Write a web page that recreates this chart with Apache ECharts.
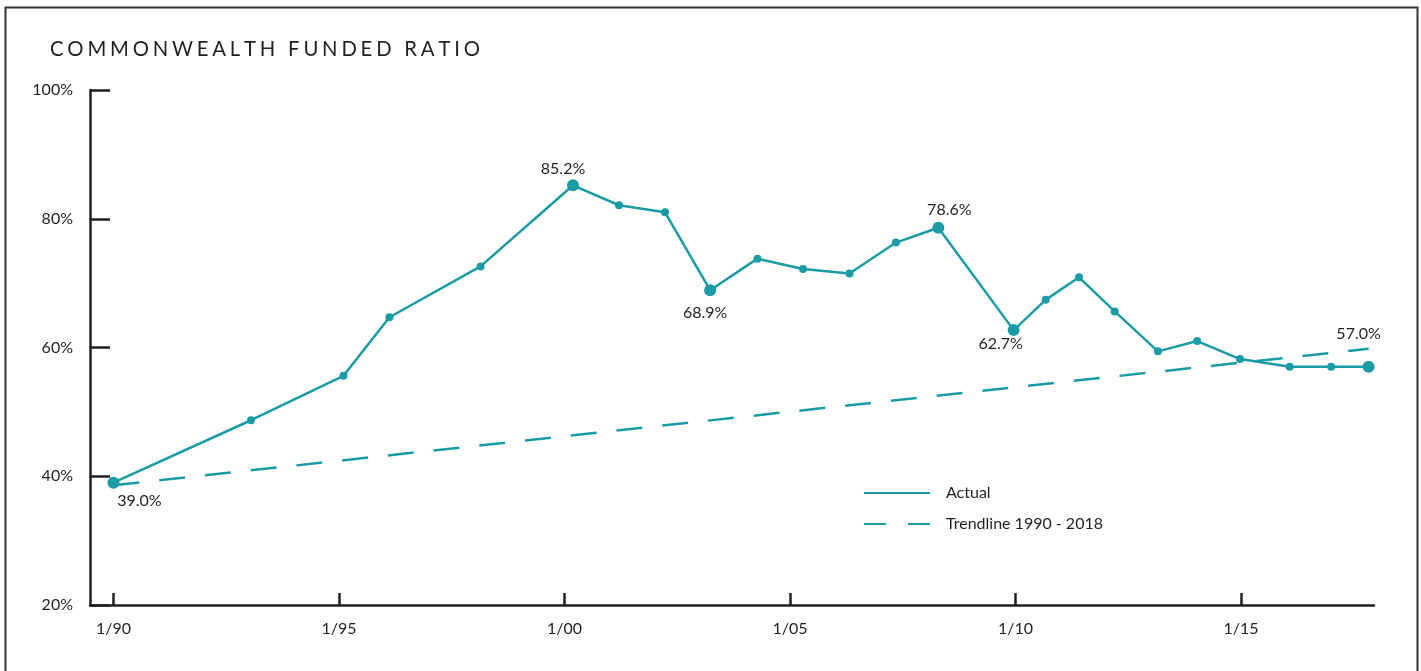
<!DOCTYPE html>
<html>
<head>
<meta charset="utf-8">
<script src="https://cdn.jsdelivr.net/npm/echarts@6/dist/echarts.min.js"></script>
<style>
  html, body { margin: 0; padding: 0; background: #ffffff; }
  #chart { width: 1421px; height: 671px; }
</style>
</head>
<body>
<div id="chart"></div>
<script>
// Funded ratio observations (fractional calendar year, percent funded)
const titleText = 'COMMONWEALTH FUNDED RATIO';
const years = [1990.0, 1993.05, 1995.1, 1996.12, 1998.14, 2000.19, 2001.21, 2002.23,
               2003.23, 2004.28, 2005.29, 2006.32, 2007.35, 2008.29, 2009.96, 2010.67,
               2011.41, 2012.2, 2013.16, 2014.03, 2014.98, 2016.08, 2017.0, 2017.83];
const actual = [39.0, 48.7, 55.6, 64.7, 72.6, 85.2, 82.1, 81.0,
                68.9, 73.8, 72.2, 71.5, 76.3, 78.6, 62.7, 67.4,
                70.9, 65.6, 59.4, 61.0, 58.2, 57.0, 57.0, 57.0];
const trendYears = [1990.0, 2017.83];
const trendValues = [38.6, 59.8];
const tickYears = [1990, 1995, 2000, 2005, 2010, 2015];
const seriesNames = ['Actual', 'Trendline 1990 - 2018'];
// points that carry a value label
const labelledIdx = [0, 5, 8, 13, 14, 23];

const TEAL = '#1b9ba6';
const INK = '#231f20';
const FONT = 'Lato, "Open Sans", sans-serif';

// label placement (label centre relative to the marker)
const labelOffsets = {
  0: [26, 18], 5: [-10, -16], 8: [-5, 23], 13: [11, -18], 14: [-13, 14], 23: [-10, -33]
};

const actualData = years.map((y, i) => {
  const item = { value: [y, actual[i]] };
  if (labelledIdx.includes(i)) {
    item.symbolSize = 12;
    item.label = {
      show: true,
      position: 'inside',
      offset: labelOffsets[i],
      formatter: p => p.value[1].toFixed(1) + '%',
      color: INK,
      fontSize: 16,
      fontFamily: FONT
    };
  }
  return item;
});
const trendData = trendYears.map((y, i) => [y, trendValues[i]]);

// wide tracking for the heading
const spacedTitle = titleText.split('').join('\u2009\u200A');

const chart = echarts.init(document.getElementById('chart'), null, { renderer: 'canvas' });
chart.setOption({
  animation: false,
  backgroundColor: '#ffffff',
  title: {
    text: spacedTitle,
    left: 50,
    top: 39,
    padding: 0,
    textStyle: { fontFamily: FONT, fontSize: 20.3, fontWeight: 'normal', color: INK, lineHeight: 20 }
  },
  graphic: [{
    type: 'rect',
    silent: true,
    z: -10,
    shape: { x: 5.5, y: 7.5, width: 1412, height: 700 },
    style: { fill: 'none', stroke: '#333333', lineWidth: 2 }
  }],
  grid: { left: 90, right: 47, top: 90, bottom: 66, containLabel: false },
  legend: {
    orient: 'vertical',
    left: 863,
    top: 485,
    padding: 0,
    itemWidth: 66,
    itemHeight: 14,
    itemGap: 15,
    itemStyle: { opacity: 0 },
    textStyle: { fontFamily: FONT, fontSize: 16, color: INK, lineHeight: 14, padding: [0, 0, 0, 11] },
    data: [
      { name: seriesNames[0] },
      { name: seriesNames[1], lineStyle: { type: [22, 22] } }
    ]
  },
  xAxis: {
    type: 'value',
    min: 1989.48,
    max: 2017.95,
    splitLine: { show: false },
    axisLine: { show: true, lineStyle: { color: INK, width: 2.5 } },
    axisTick: { show: true, inside: true, length: 12, customValues: tickYears, lineStyle: { color: INK, width: 2.5 } },
    axisLabel: {
      customValues: tickYears,
      formatter: v => '1/' + String(Math.round(v)).slice(2),
      margin: 16,
      color: INK,
      fontSize: 16,
      fontFamily: FONT
    }
  },
  yAxis: {
    type: 'value',
    min: 20,
    max: 100,
    interval: 20,
    splitLine: { show: false },
    axisLine: { show: true, lineStyle: { color: INK, width: 2.5 } },
    axisTick: { show: true, inside: true, length: 20, lineStyle: { color: INK, width: 2.5 } },
    axisLabel: {
      formatter: v => v + '%',
      margin: 17,
      color: INK,
      fontSize: 16,
      fontFamily: FONT,
      padding: [0, 0, 7, 0]
    }
  },
  series: [
    {
      name: seriesNames[1],
      type: 'line',
      data: trendData,
      symbol: 'none',
      lineStyle: { color: TEAL, width: 2.5, type: [26, 20] },
      itemStyle: { color: TEAL },
      z: 2
    },
    {
      name: seriesNames[0],
      type: 'line',
      data: actualData,
      symbol: 'circle',
      symbolSize: 8,
      lineStyle: { color: TEAL, width: 2.5 },
      itemStyle: { color: TEAL },
      z: 3
    }
  ]
});
</script>
</body>
</html>
